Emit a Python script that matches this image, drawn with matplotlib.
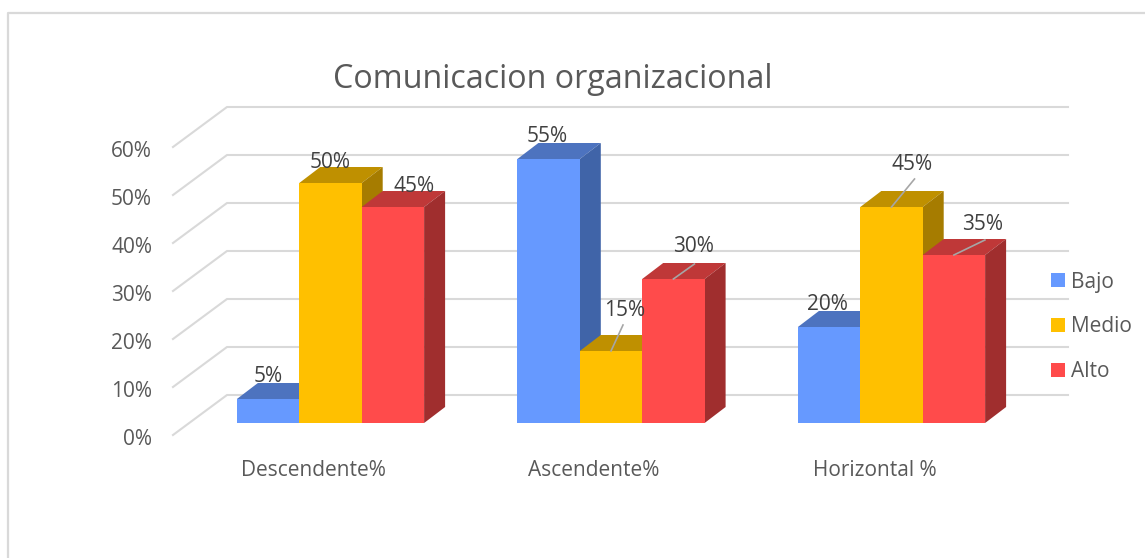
import numpy as np
import matplotlib
matplotlib.use('Agg')
import matplotlib.pyplot as plt
from matplotlib.patches import Polygon

plt.rcParams['font.family'] = ['Open Sans', 'DejaVu Sans']

# datos
categorias = ['Descendente%', 'Ascendente%', 'Horizontal %']
bajo = [5, 55, 20]
medio = [50, 15, 45]
alto = [45, 30, 35]
ticks = [0, 10, 20, 30, 40, 50, 60]
nombres = ['Bajo', 'Medio', 'Alto']

# estilo por serie: frente, tapa, lateral
colores = [('#6699FF', '#4D73BF', '#4064A8'),
           ('#FFC000', '#BF9000', '#A67C00'),
           ('#FF4B4B', '#BF3838', '#A02E2E')]

W, H = 1145, 558
px_x = 280.5     # pixeles por categoria
px_y = 4.8       # pixeles por punto de %
x0, y0 = 330.5, 423   # origen del eje en pixeles
ancho = 62.4 / px_x
dx = 21 / px_x   # profundidad del 3D
dy = 16 / px_y
gris = '#595959'

fig = plt.figure(figsize=(W / 100, H / 100), dpi=100)
ax = fig.add_axes([0, 0, 1, 1])
ax.set_xlim(-x0 / px_x, (W - x0) / px_x)
ax.set_ylim((y0 - H) / px_y, y0 / px_y)
ax.axis('off')

# marco del grafico
ax.plot([8 / W, 8 / W, 1], [0, 1 - 13 / H, 1 - 13 / H], transform=ax.transAxes,
        color='#D9D9D9', lw=1.6, clip_on=False)

# rejilla: pared del fondo y suelo lateral
fondo = 28 / px_y
izq_a, izq_b = (173 - x0) / px_x, (227 - x0) / px_x
der = (1068 - x0) / px_x
for t in ticks:
    ax.plot([izq_a, izq_b, der], [t - 2.5, t + fondo, t + fondo], color='#D9D9D9', lw=1.5, zorder=1)
    ax.text((152 - x0) / px_x, t - 3.5, f'{t}%', ha='right', va='center', fontsize=15, color=gris)

# barras
series = [bajo, medio, alto]
xpos = np.arange(len(categorias))
for i, valores in enumerate(series):
    c_frente, c_tapa, c_lado = colores[i]
    x = xpos + (i - 1) * ancho
    for xi, v in zip(x, valores):
        l, r = xi - ancho / 2, xi + ancho / 2
        z = 3 + i
        ax.add_patch(Polygon([(l, v), (l + dx, v + dy), (r + dx, v + dy), (r, v)], fc=c_tapa, ec='none', zorder=z))
        ax.add_patch(Polygon([(r, 0), (r + dx, dy), (r + dx, v + dy), (r, v)], fc=c_lado, ec='none', zorder=z))
    ax.bar(x, valores, ancho, color=c_frente, label=nombres[i], zorder=z + 0.5)

# etiquetas de datos: desplazamiento en pixeles respecto a la cima de la barra
desp = [[(0, 22), (0, 21), (21, 21)],
        [(-1.5, 22), (14, 40), (20, 32)],
        [(-2, 23), (21, 42), (29, 30)]]
# linea guia: (categoria, serie) -> extremo en pixeles
guias = {(1, 1): (12, 26), (1, 2): (21, 15), (2, 1): (23, 28), (2, 2): (31, 15)}
for j in range(len(categorias)):
    for i, valores in enumerate(series):
        v = valores[j]
        xc = xpos[j] + (i - 1) * ancho
        ox, oy = desp[j][i]
        ax.text(xc + ox / px_x, v + oy / px_y, f'{v}%', ha='center', va='center',
                fontsize=15, color='#404040', zorder=10)
        if (j, i) in guias:
            gx, gy = guias[(j, i)]
            ax.plot([xc, xc + gx / px_x], [v, v + gy / px_y], color='#A6A6A6', lw=1.2, zorder=9)

# categorias
for j, nombre in enumerate(categorias):
    ax.text(xpos[j] - 17 / px_x, (y0 - 470) / px_y, nombre, ha='center', va='center', fontsize=15, color=gris)

ax.text((552.5 - x0) / px_x, (y0 - 79) / px_y, 'Comunicacion organizacional', ha='center', va='center',
        fontsize=23.2, color=gris)

ax.legend(loc='center left', bbox_to_anchor=(1051 / W, 1 - 327 / H), frameon=False, fontsize=15,
          labelcolor=gris, handlelength=0.67, handleheight=0.67, handletextpad=0.29, labelspacing=1.15,
          borderpad=0, borderaxespad=0)

fig.savefig('out.png', dpi=100)
